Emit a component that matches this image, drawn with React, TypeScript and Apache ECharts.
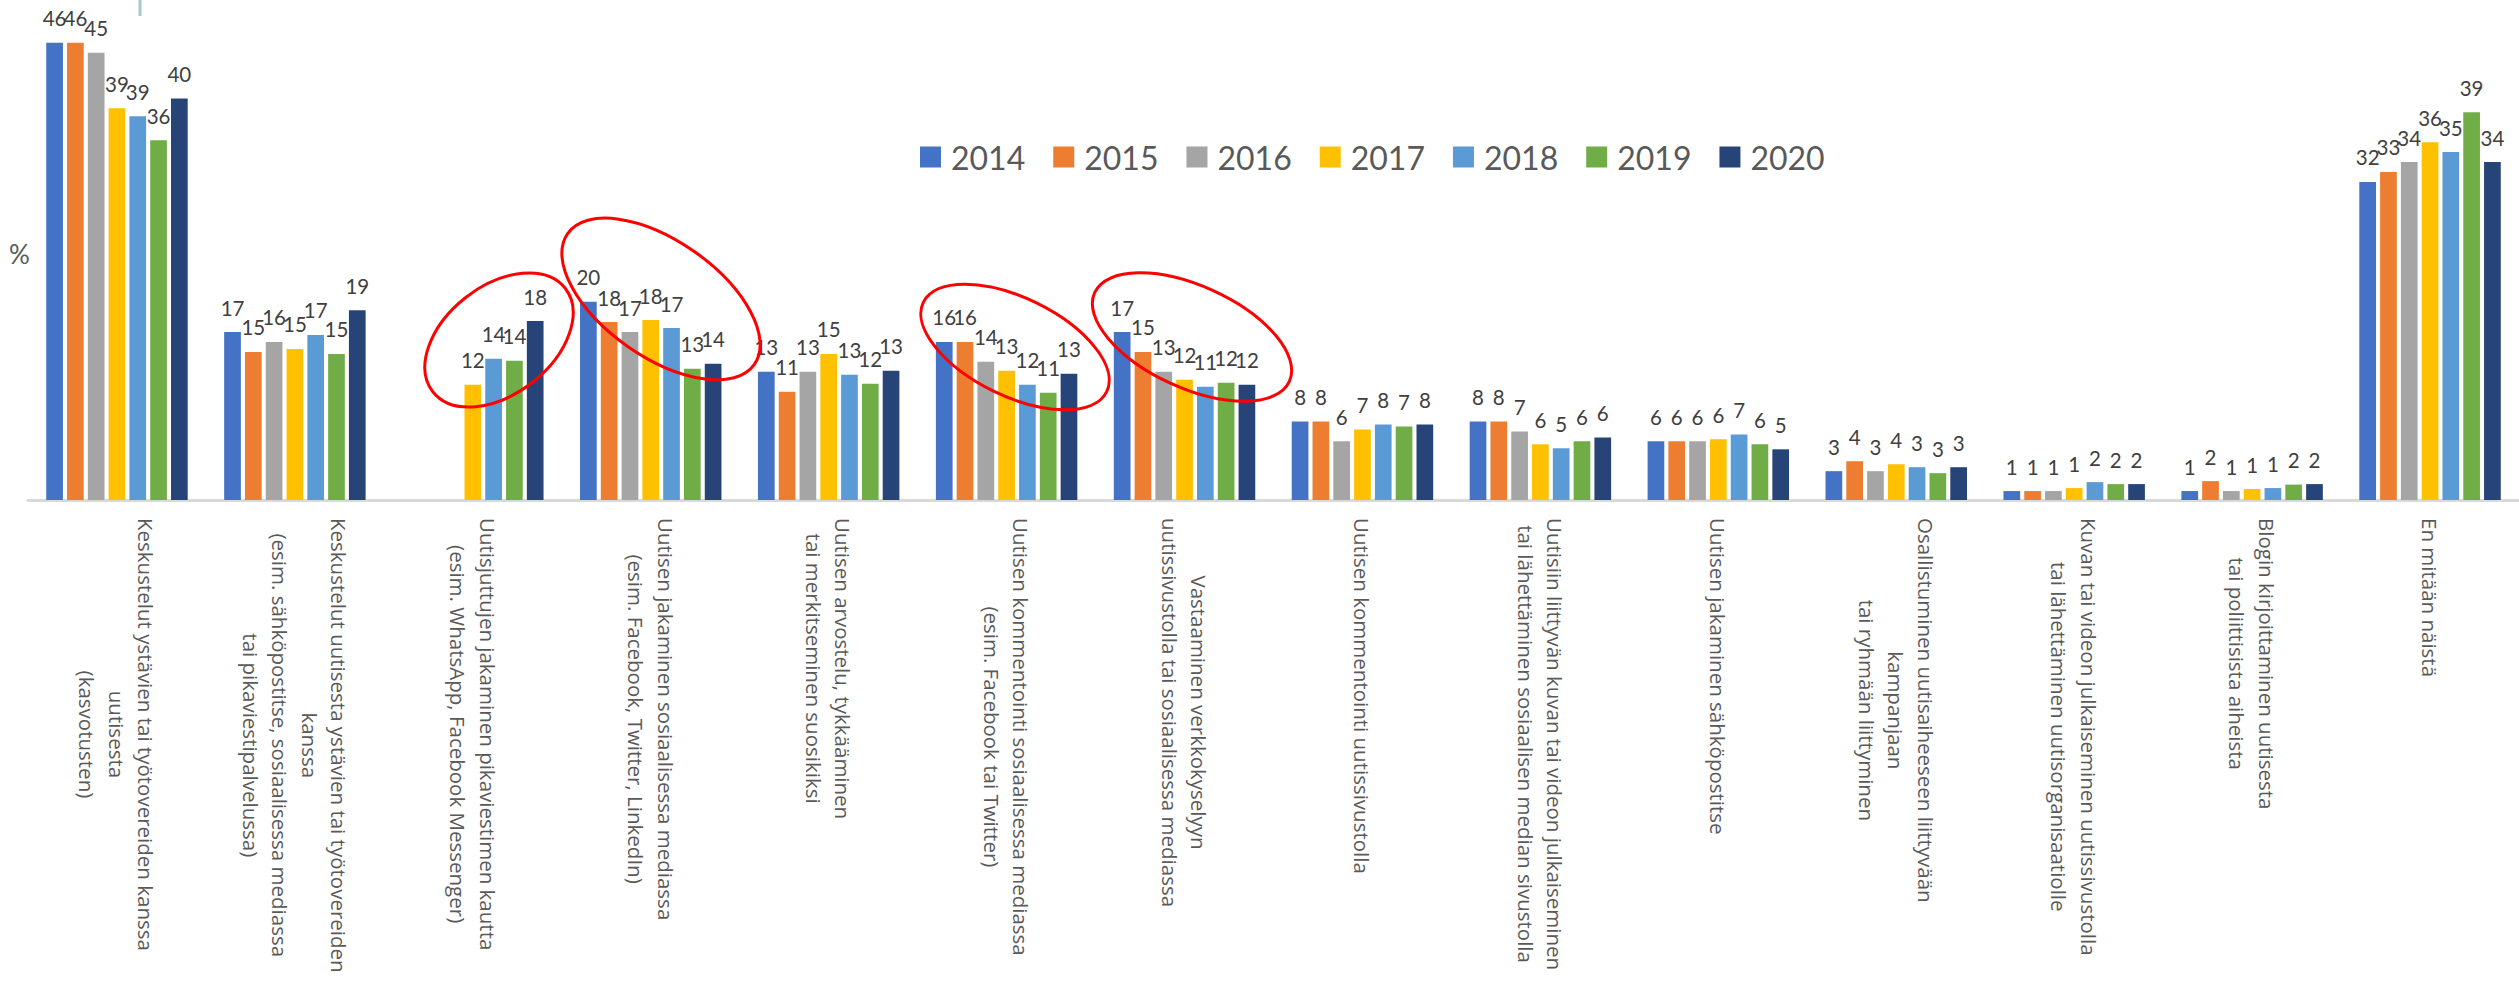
import React, { useEffect, useRef } from 'react';
import * as echarts from 'echarts';

const categories = [
  'Keskustelut ystävien tai työtovereiden kanssa\nuutisesta\n(kasvotusten)',
  'Keskustelut uutisesta ystävien tai työtovereiden\nkanssa\n(esim. sähköpostitse, sosiaalisessa mediassa\ntai pikaviestipalvelussa)',
  'Uutisjuttujen jakaminen pikaviestimen kautta\n(esim. WhatsApp, Facebook Messenger)',
  'Uutisen jakaminen sosiaalisessa mediassa\n(esim. Facebook, Twitter, LinkedIn)',
  'Uutisen arvostelu, tykkääminen\ntai merkitseminen suosikiksi',
  'Uutisen kommentointi sosiaalisessa mediassa\n(esim. Facebook tai Twitter)',
  'Vastaaminen verkkokyselyyn\nuutissivustolla tai sosiaalisessa mediassa',
  'Uutisen kommentointi uutissivustolla',
  'Uutisiin liittyvän kuvan tai videon julkaiseminen\ntai lähettäminen sosiaalisen median sivustolla',
  'Uutisen jakaminen sähköpostitse',
  'Osallistuminen uutisaiheeseen liittyvään\nkampanjaan\ntai ryhmään liittyminen',
  'Kuvan tai videon julkaiseminen uutissivustolla\ntai lähettäminen uutisorganisaatiolle',
  'Blogin kirjoittaminen uutisesta\ntai poliittisista aiheista',
  'En mitään näistä',
];

const years = ['2014', '2015', '2016', '2017', '2018', '2019', '2020'];

const v2014 = [46.0, 16.9, null, 19.95, 12.9, 15.9, 16.9, 7.9, 7.9, 5.9, 2.9, 0.9, 0.9, 32.0];
const v2015 = [46.0, 14.9, null, 17.9, 10.9, 15.9, 14.9, 7.9, 7.9, 5.9, 3.9, 0.9, 1.9, 33.0];
const v2016 = [45.0, 15.9, null, 16.9, 12.9, 13.9, 12.9, 5.9, 6.9, 5.9, 2.9, 0.9, 0.9, 34.0];
const v2017 = [39.4, 15.2, 11.6, 18.1, 14.7, 13.0, 12.1, 7.1, 5.6, 6.1, 3.6, 1.2, 1.1, 36.0];
const v2018 = [38.6, 16.6, 14.2, 17.3, 12.6, 11.6, 11.4, 7.6, 5.2, 6.6, 3.3, 1.8, 1.2, 35.0];
const v2019 = [36.2, 14.7, 14.0, 13.2, 11.7, 10.8, 11.8, 7.4, 5.9, 5.6, 2.7, 1.6, 1.55, 39.0];
const v2020 = [40.4, 19.1, 18.0, 13.7, 13.0, 12.7, 11.6, 7.6, 6.3, 5.1, 3.3, 1.6, 1.6, 34.0];

const seriesValues = [v2014, v2015, v2016, v2017, v2018, v2019, v2020];
const colors = ['#4472C4', '#ED7D31', '#A5A5A5', '#FFC000', '#5B9BD5', '#70AD47', '#264478'];

export default function App() {
  const ref = useRef<HTMLDivElement>(null);
  useEffect(() => {
    if (!ref.current) return;
    const chart = echarts.init(ref.current, null, { renderer: 'svg' });
    const deg = Math.PI / 180;
    const ellipse = (cx: number, cy: number, rx: number, ry: number, rot: number) => ({
      type: 'ellipse',
      x: cx,
      y: cy,
      rotation: rot * deg,
      z: 100,
      shape: { cx: 0, cy: 0, rx, ry },
      style: { fill: 'none', stroke: '#FF0000', lineWidth: 3 },
    });
    chart.setOption({
      animation: false,
      backgroundColor: '#ffffff',
      color: colors,
      grid: { left: 28, top: 3, width: 2500, height: 497, containLabel: false },
      legend: {
        data: years,
        left: 920,
        top: 141,
        padding: 0,
        itemWidth: 21,
        itemHeight: 21,
        itemGap: 28,
        icon: 'rect',
        textStyle: { fontFamily: 'Lato', fontSize: 32, color: '#595959', lineHeight: 32, padding: [0, 0, 0, 5] },
      },
      xAxis: {
        type: 'category',
        data: categories,
        axisLine: { show: true, lineStyle: { color: '#D9D9D9', width: 3 } },
        axisTick: { show: false },
        axisLabel: {
          interval: 0,
          rotate: -90,
          margin: 18,
          fontFamily: 'Open Sans',
          fontSize: 20.5,
          color: '#595959',
          formatter: (val: string) => val.split('\n').map((l) => `{c|${l}}`).join('\n'),
          rich: {
            c: { align: 'center', fontFamily: 'Open Sans', fontSize: 20.5, lineHeight: 29.5, color: '#595959' },
          },
        },
      },
      yAxis: { type: 'value', min: 0, max: 50, show: false, splitLine: { show: false } },
      series: years.map((y, i) => ({
        name: y,
        type: 'bar',
        data: seriesValues[i],
        barWidth: 16.7,
        barGap: '24.5%',
        itemStyle: { color: colors[i] },
        label: {
          show: true,
          position: 'top',
          distance: 14,
          fontFamily: 'Lato',
          fontSize: 20.5,
          color: '#404040',
          formatter: (p: any) => (p.value == null ? '' : String(Math.round(p.value))),
        },
      })),
      graphic: [
        {
          type: 'line',
          z: 100,
          shape: { x1: 140, y1: 0, x2: 140, y2: 16 },
          style: { stroke: '#A9C8CB', lineWidth: 3 },
        },
        {
          type: 'text',
          x: 9,
          y: 254,
          z: 100,
          style: { text: '%', fontFamily: 'Lato', fontSize: 26, fill: '#595959', verticalAlign: 'middle' },
        },
        ellipse(499, 340, 84, 54, 38),
        ellipse(661, 299, 114, 58, -35),
        ellipse(1015, 347, 102, 49, -26),
        ellipse(1192, 337, 107, 51, -24.5),
      ],
    });
    return () => chart.dispose();
  }, []);
  return <div ref={ref} style={{ position: 'fixed', left: 0, top: 0, width: 2519, height: 983 }} />;
}
